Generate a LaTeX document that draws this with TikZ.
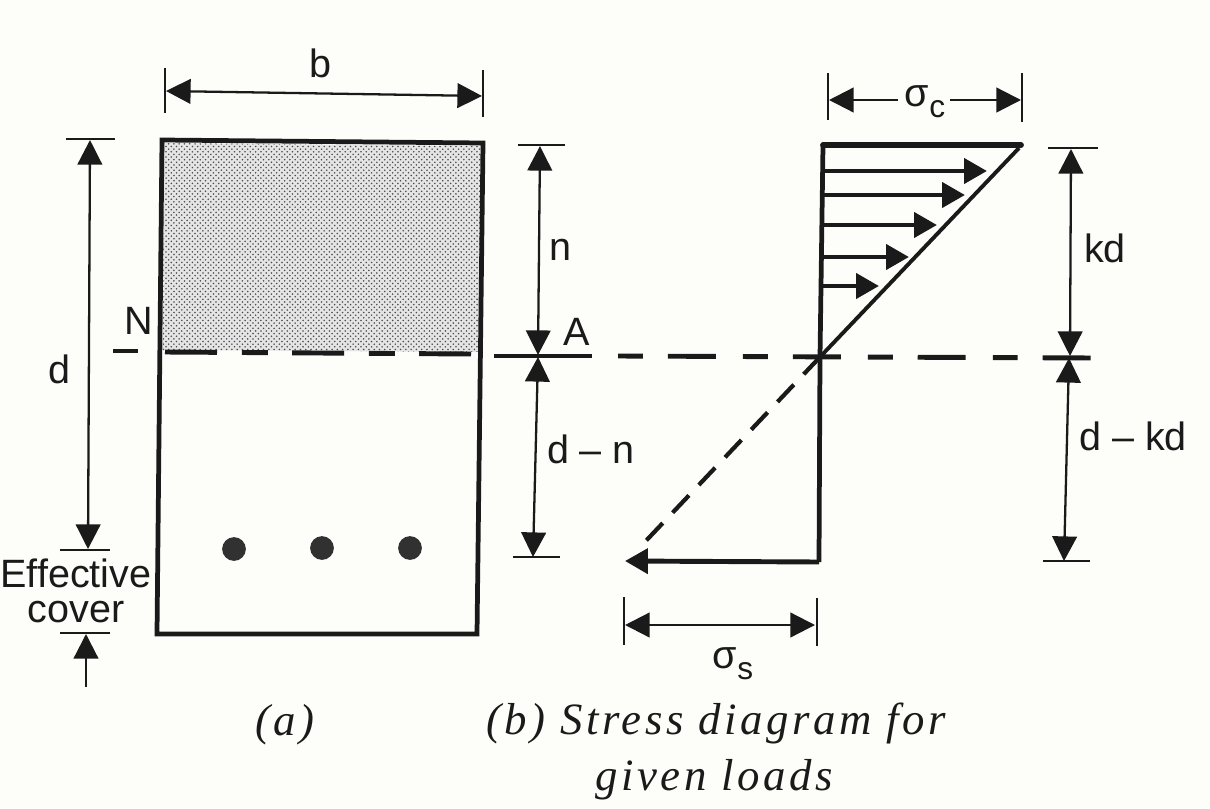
\documentclass[tikz,border=0pt]{standalone}
\usepackage{fontspec}
\setmainfont{Liberation Sans}
\newfontfamily\capfont[LetterSpace=8]{Liberation Serif}
\usepackage{tikz}
\usetikzlibrary{arrows.meta,patterns}
\definecolor{paper}{HTML}{FDFDF9}
\definecolor{ink}{HTML}{1A1A1A}
\tikzset{
  outline/.style={draw=ink,line width=2.7pt,line cap=round,line join=miter},
  dimline/.style={draw=ink,line width=1.3pt,{Triangle[width=14pt,length=14pt]}-{Triangle[width=14pt,length=14pt]}},
  oneway/.style={draw=ink,line width=1.3pt,-{Triangle[width=14pt,length=14pt]}},
  loadarrow/.style={draw=ink,line width=2.8pt,-{Triangle[width=14pt,length=13pt]}},
  tick/.style={draw=ink,line width=1.3pt},
  axisdash/.style={draw=ink,line width=2.8pt},
  label/.style={font=\fontsize{22.5}{20}\selectfont,text=ink,inner sep=0pt},
  capt/.style={font=\fontsize{25.5}{27}\selectfont\capfont\itshape,text=ink,inner sep=0pt},
  bar/.style={circle,fill=ink!90,minimum size=13.5pt,inner sep=0pt}
}
\newcommand{\lowsub}[1]{\raisebox{-0.28em}{\fontsize{18}{18}\selectfont #1}}
\begin{document}
\begin{tikzpicture}[x=0.02cm,y=-0.02cm]
\useasboundingbox[fill=paper] (0,0) rectangle (1210,808);

%section
\coordinate (tl) at (162,140);
\coordinate (tr) at (483,143);
\coordinate (br) at (477,634);
\coordinate (bl) at (157,634);
\fill[black!10] (164,143) -- (481,146) -- (480,352) -- (163,350) -- cycle;
\fill[pattern=crosshatch dots,pattern color=black!70] (164,143) -- (481,146) -- (480,352) -- (163,350) -- cycle;
\draw[outline] (tl) -- (tr) -- (br) -- (bl) -- cycle;

%bars
\node[bar] (bar1) at (234,549) {};
\node[bar] (bar2) at (322,548) {};
\node[bar] (bar3) at (410,548) {};

%neutral axis
\coordinate (naA) at (113,351);
\coordinate (naB) at (138,351);
\coordinate (naC) at (165,352);
\coordinate (naD) at (471,354);
\coordinate (axA) at (494,356);
\coordinate (axB) at (592,356);
\coordinate (axC) at (618,356);
\coordinate (axD) at (1095,358);
\draw[axisdash] (naA) -- (naB);
\draw[axisdash,dash pattern=on 29.6pt off 14.2pt on 14.8pt off 13.7pt] (naC) -- (naD);
\draw[tick,line width=2pt] (axA) -- (axB);
\draw[axisdash,dash pattern=on 14.2pt off 14.2pt on 27.3pt off 15.4pt] (axC) -- (axD);

%b
\coordinate (bA) at (165,68);
\coordinate (bB) at (165,113);
\coordinate (bC) at (483,70);
\coordinate (bD) at (483,117);
\coordinate (bE) at (166,91);
\coordinate (bF) at (482,96);
\draw[tick] (bA) -- (bB);
\draw[tick] (bC) -- (bD);
\draw[dimline] (bE) -- (bF);
\node[label] (blabel) at (320,63) {b};

%d
\coordinate (dA) at (66,139);
\coordinate (dB) at (115,139);
\coordinate (dC) at (60,550);
\coordinate (dD) at (110,550);
\coordinate (dE) at (90,140);
\coordinate (dF) at (88,549);
\draw[tick] (dA) -- (dB);
\draw[tick] (dC) -- (dD);
\draw[dimline] (dE) -- (dF);
\node[label] (dlabel) at (59,369) {d};
\node[label] (nlabel) at (139,321) {N};

%effective cover
\node[label,align=center] (efflabel) at (76,591) {Effective\\cover};
\coordinate (cA) at (60,633);
\coordinate (cB) at (110,633);
\coordinate (cC) at (86,687);
\coordinate (cD) at (86,634);
\draw[tick] (cA) -- (cB);
\draw[oneway] (cC) -- (cD);

%n
\coordinate (nA) at (518,145);
\coordinate (nB) at (565,145);
\coordinate (nC) at (540,146);
\coordinate (nD) at (538,355);
\coordinate (nE) at (538,357);
\coordinate (nF) at (533,557);
\coordinate (nG) at (513,557);
\coordinate (nH) at (560,557);
\draw[tick] (nA) -- (nB);
\draw[dimline] (nC) -- (nD);
\draw[dimline] (nE) -- (nF);
\draw[tick] (nG) -- (nH);
\node[label] (nn) at (560,250) {n};
\node[label] (alabel) at (577,332) {A};
\node[label] (dn) at (591,449) {d -- n};

%stress block
\coordinate (sA) at (823,145);
\coordinate (sB) at (1021,145);
\coordinate (sC) at (820,357);
\coordinate (sD) at (819,562);
\coordinate (sE) at (625,561);
\coordinate (sF) at (1019,148);
\coordinate (sG) at (642,545);
\draw[outline,line width=3.3pt] (sA) -- (sB);
\draw[outline,line cap=butt] (sA) -- (sC) -- (sD);
\draw[loadarrow] (sD) -- (sE);
\draw[draw=ink,line width=2.2pt] (sF) -- (sC);
\draw[draw=ink,line width=2.4pt,dash pattern=on 13.5pt off 8.2pt] (sC) -- (sG);

%load arrows
\coordinate (lA) at (824,171);
\coordinate (lAt) at (987,171);
\coordinate (lB) at (824,195);
\coordinate (lBt) at (965,195);
\coordinate (lC) at (823,225);
\coordinate (lCt) at (937,225);
\coordinate (lD) at (822,257);
\coordinate (lDt) at (909,257);
\coordinate (lE) at (822,286);
\coordinate (lEt) at (879,286);
\draw[loadarrow] (lA) -- (lAt);
\draw[loadarrow] (lB) -- (lBt);
\draw[loadarrow] (lC) -- (lCt);
\draw[loadarrow] (lD) -- (lDt);
\draw[loadarrow] (lE) -- (lEt);

%sigma c
\node[label] (sigc) at (925,102) {σ\lowsub{c}};
\coordinate (scA) at (828,73);
\coordinate (scB) at (828,120);
\coordinate (scC) at (1022,73);
\coordinate (scD) at (1022,122);
\coordinate (scE) at (829,100);
\coordinate (scF) at (898,100);
\coordinate (scG) at (950,100);
\coordinate (scH) at (1021,100);
\draw[tick] (scA) -- (scB);
\draw[tick] (scC) -- (scD);
\draw[oneway] (scF) -- (scE);
\draw[oneway] (scG) -- (scH);

%kd
\coordinate (kA) at (1048,148);
\coordinate (kB) at (1098,148);
\coordinate (kC) at (1071,149);
\coordinate (kD) at (1070,356);
\coordinate (kE) at (1069,358);
\coordinate (kF) at (1064,561);
\coordinate (kG) at (1043,561);
\coordinate (kH) at (1090,561);
\draw[tick] (kA) -- (kB);
\draw[dimline] (kC) -- (kD);
\draw[dimline] (kE) -- (kF);
\draw[tick] (kG) -- (kH);
\node[label] (kd) at (1105,248) {kd};
\node[label] (dkd) at (1133,436) {d -- kd};

%sigma s
\coordinate (ssA) at (624,597);
\coordinate (ssB) at (624,645);
\coordinate (ssC) at (817,598);
\coordinate (ssD) at (817,646);
\coordinate (ssE) at (625,625);
\coordinate (ssF) at (815,625);
\draw[tick] (ssA) -- (ssB);
\draw[tick] (ssC) -- (ssD);
\draw[dimline] (ssE) -- (ssF);
\node[label] (sigs) at (733,664) {σ\lowsub{s}};

%captions
\node[capt] (capa) at (285,725) {(a)};
\node[capt] (capb) at (716,723) {(b) Stress diagram for};
\node[capt] (capc) at (714,780) {given loads};
\end{tikzpicture}
\end{document}
